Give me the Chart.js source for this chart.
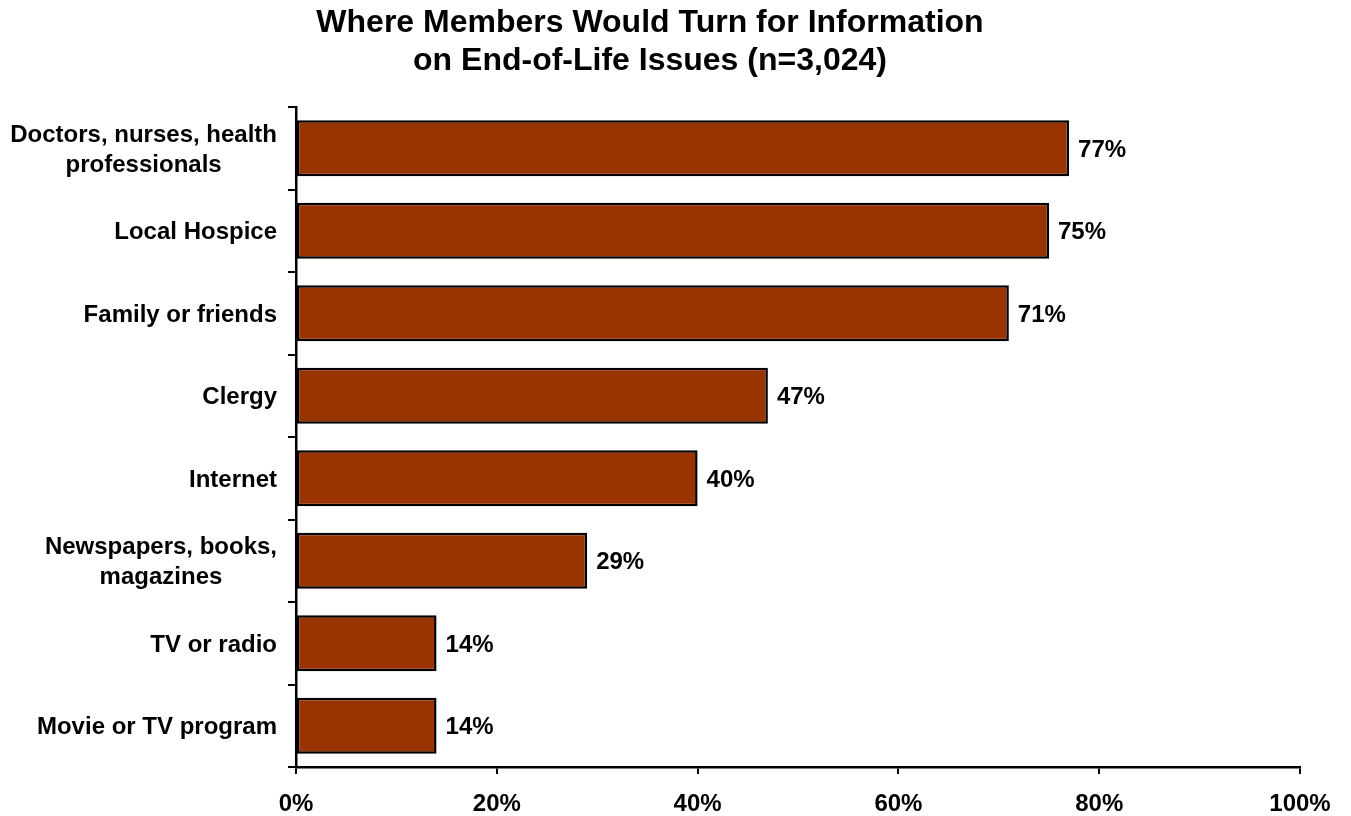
<!DOCTYPE html>
<html>
<head>
<meta charset="utf-8">
<script src="https://cdn.jsdelivr.net/npm/chart.js@4"></script>
<style>
  body { margin: 0; background: #fff; }
  #wrap { width: 1351px; height: 816px; }
</style>
</head>
<body>
<div id="wrap"><canvas id="myChart"></canvas></div>
<script>
const categories = [
    ['Doctors, nurses, health', 'professionals'],
    'Local Hospice',
    'Family or friends',
    'Clergy',
    'Internet',
    ['Newspapers, books,', 'magazines'],
    'TV or radio',
    'Movie or TV program'
];
const shares = [77, 75, 71, 47, 40, 29, 14, 14];
const xTicks = [0, 20, 40, 60, 80, 100];

const FONT = "'Liberation Sans', Arial, sans-serif";

// category labels, each line centred on the widest line, block right-aligned
const sideLabels = {
    id: 'sideLabels',
    afterDraw(chart) {
        const ctx = chart.ctx;
        const y = chart.scales.y;
        ctx.save();
        ctx.font = 'bold 24px ' + FONT;
        ctx.fillStyle = '#000';
        ctx.textAlign = 'center';
        ctx.textBaseline = 'middle';
        const right = y.right - 19;
        categories.forEach((lab, i) => {
            const lines = Array.isArray(lab) ? lab : [lab];
            const w = Math.max(...lines.map(l => ctx.measureText(l).width));
            const cx = right - w / 2;
            const cy = y.getPixelForTick(i) + 2;
            const lh = 30;
            lines.forEach((l, j) => {
                ctx.fillText(l, cx, cy + (j - (lines.length - 1) / 2) * lh);
            });
        });
        ctx.restore();
    }
};

// percentage at the end of each bar
const valueLabels = {
    id: 'valueLabels',
    afterDatasetsDraw(chart) {
        const ctx = chart.ctx;
        const meta = chart.getDatasetMeta(0);
        ctx.save();
        ctx.font = 'bold 24px ' + FONT;
        ctx.fillStyle = '#000';
        ctx.textAlign = 'left';
        ctx.textBaseline = 'middle';
        meta.data.forEach((bar, i) => {
            ctx.fillText(shares[i] + '%', bar.x + 9, bar.y + 2);
        });
        ctx.restore();
    }
};

const data = {
    labels: categories,
    datasets: [{
        data: shares,
        backgroundColor: '#993300',
        borderColor: '#000',
        borderWidth: 2.5,
        borderSkipped: false,
        barPercentage: 0.68,
        categoryPercentage: 1
    }]
};

const config = {
    type: 'bar',
    data,
    options: {
        indexAxis: 'y',
        responsive: true,
        maintainAspectRatio: false,
        animation: false,
        layout: {
            autoPadding: false,
            padding: { left: 0, right: 51, top: 0, bottom: 0 }
        },
        plugins: {
            legend: { display: false },
            tooltip: { enabled: false },
            title: {
                display: true,
                text: ['Where Members Would Turn for Information', 'on End-of-Life Issues (n=3,024)'],
                color: '#000',
                font: { family: FONT, size: 32, weight: 'bold', lineHeight: 1.16 },
                padding: { top: 5, bottom: 27.8 }
            }
        },
        scales: {
            x: {
                min: 0,
                max: 100,
                afterBuildTicks: s => { s.ticks = xTicks.map(v => ({ value: v })); },
                afterFit: s => { s.height = 49; },
                ticks: {
                    callback: v => v + '%',
                    color: '#000',
                    padding: 16,
                    maxRotation: 0,
                    font: { family: FONT, size: 24, weight: 'bold' }
                },
                grid: {
                    drawOnChartArea: false,
                    color: '#000',
                    lineWidth: 2,
                    tickLength: 7
                },
                border: { display: true, color: '#000', width: 2.5 }
            },
            y: {
                afterFit: s => { s.width = 296; },
                ticks: { display: false },
                grid: {
                    offset: true,
                    drawOnChartArea: false,
                    color: '#000',
                    lineWidth: 2,
                    tickLength: 8
                },
                border: { display: true, color: '#000', width: 2.5 }
            }
        }
    },
    plugins: [sideLabels, valueLabels]
};

var myChart = new Chart(document.getElementById('myChart'), config);
</script>
</body>
</html>
